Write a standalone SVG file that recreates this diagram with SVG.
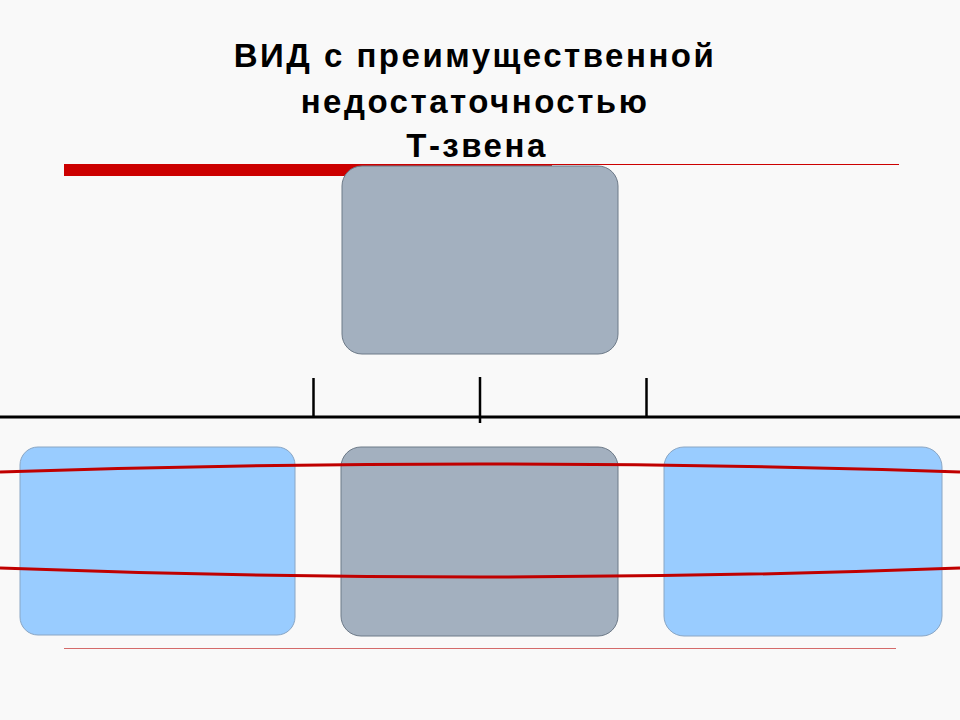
<svg xmlns="http://www.w3.org/2000/svg" width="960" height="720" viewBox="0 0 960 720">
<style>
.title{font-family:"Liberation Sans",Arial,sans-serif;font-weight:bold;font-size:33px;letter-spacing:2.5px;fill:#000;text-anchor:middle}
.grey{fill:#a3b0bf;stroke:#6d7a88;stroke-width:1}
.blue{fill:#99ccff;stroke:#8aa6c4;stroke-width:1}
.curve{fill:none;stroke:#c00000;stroke-width:3}
.tick{stroke:#000;stroke-width:2.5}
</style>
<rect x="0" y="0" width="960" height="720" fill="#f9f9f9"/>
<g id="title">
<text class="title" x="475" y="67">ВИД с преимущественной</text>
<text class="title" x="475" y="113">недостаточностью</text>
<text class="title" x="477" y="157">Т-звена</text>
</g>
<g id="decor">
<rect x="64" y="164" width="488" height="12" fill="#cc0000"/>
<line x1="552" y1="164.5" x2="899" y2="164.5" stroke="#cc0000" stroke-width="1"/>
<line x1="64" y1="648.5" x2="896" y2="648.5" stroke="#d46a6a" stroke-width="1"/>
</g>
<g id="node-top"><rect class="grey" x="342" y="166" width="276" height="188" rx="20"/></g>
<g id="node-left"><rect class="blue" x="20" y="447" width="275" height="188" rx="18" stroke="none"/></g>
<g id="node-middle"><rect class="grey" x="341" y="447" width="277" height="189" rx="20"/></g>
<g id="node-right"><rect class="blue" x="664" y="447" width="278" height="189" rx="20"/></g>
<g id="connectors">
<line x1="0" y1="417" x2="960" y2="417" stroke="#000" stroke-width="3"/>
<line class="tick" x1="313.5" y1="378" x2="313.5" y2="417"/>
<line class="tick" x1="480" y1="377" x2="480" y2="423"/>
<line class="tick" x1="646.5" y1="378" x2="646.5" y2="417"/>
<path class="curve" d="M0,472 Q480,456 960,472"/>
<path class="curve" d="M0,568 Q480,586 960,568"/>
</g>
</svg>
